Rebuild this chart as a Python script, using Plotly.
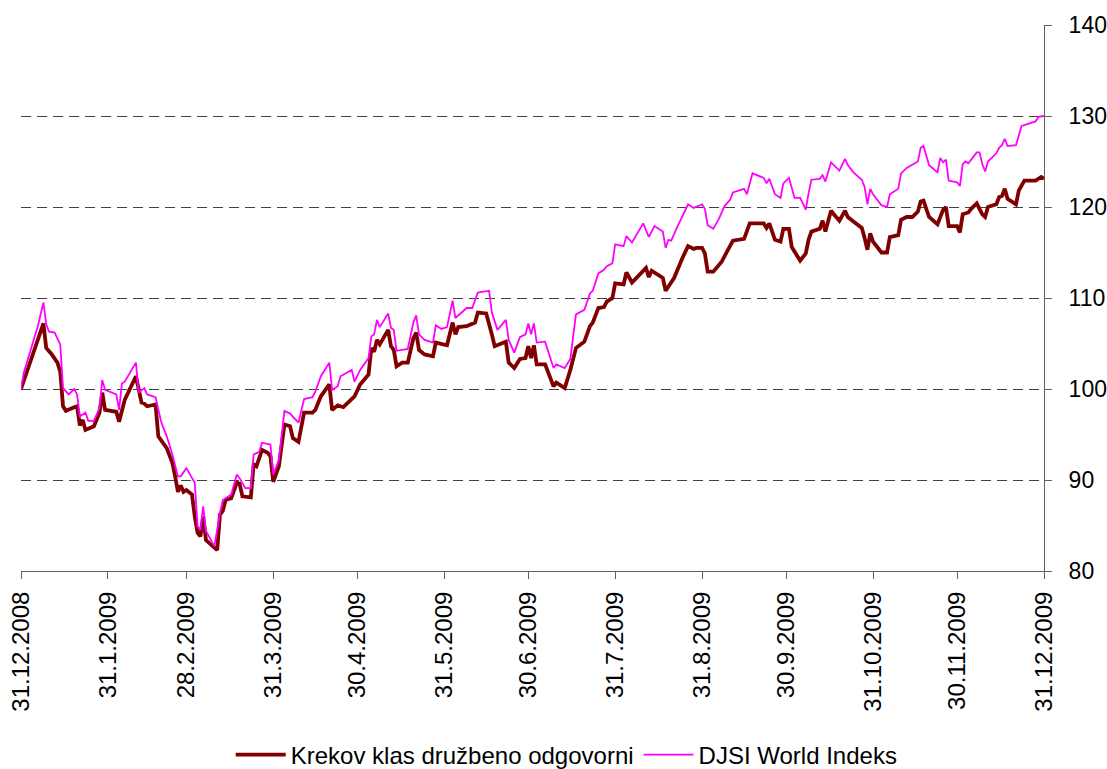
import pandas as pd
import plotly.graph_objects as go

start = pd.Timestamp("2008-12-31")

# Krekov klas družbeno odgovorni: calendar days since 31.12.2008 and index value
krekov_day = [0, 8, 9, 11, 13, 14, 15, 16, 19, 20, 21, 22, 23, 26, 28, 29, 30, 34, 35, 37,
              41, 43, 44, 45, 48, 49, 52, 54, 55, 56, 57, 58, 59, 61, 62, 63, 64, 65, 66, 67,
              68, 70, 71, 72, 73, 75, 77, 78, 79, 82, 83, 84, 86, 88, 89, 90, 92, 94, 96, 97,
              99, 101, 104, 105, 107, 110, 111, 113, 115, 119, 121, 124, 125, 126, 127, 128, 131, 132, 133, 134,
              136, 138, 140, 141, 142, 144, 147, 148, 152, 154, 155, 156, 159, 162, 163, 166, 168, 169, 173, 174,
              176, 178, 180, 181, 182, 183, 184, 187, 190, 191, 194, 196, 198, 201, 203, 204, 206, 208, 209, 211,
              212, 215, 216, 218, 223, 224, 225, 229, 230, 233, 236, 238, 240, 241, 243, 244, 245, 247, 250, 254,
              258, 260, 265, 266, 267, 269, 271, 272, 274, 275, 278, 280, 281, 282, 285, 286, 287, 289, 290, 292,
              294, 295, 297, 300, 301, 302, 303, 304, 307, 309, 310, 313, 314, 316, 318, 320, 321, 322, 324, 327,
              329, 330, 331, 334, 335, 336, 338, 339, 341, 343, 344, 345, 348, 349, 350, 351, 352, 355, 356, 358,
              362, 364, 365]
krekov_val = [100.0, 107.2, 104.5, 103.8, 102.9, 101.9, 98.1, 97.6, 98.0, 98.1, 96.0, 96.6, 95.5, 95.9, 97.4, 99.6, 97.7, 97.5, 96.4, 98.8,
              101.4, 98.5, 98.4, 98.1, 98.3, 94.8, 93.5, 91.9, 90.4, 88.7, 89.4, 88.7, 88.9, 88.4, 86.0, 84.2, 83.8, 86.0, 83.4, 83.1,
              82.8, 82.3, 86.2, 86.6, 87.8, 88.0, 89.7, 89.6, 88.2, 88.1, 91.7, 91.5, 93.3, 93.0, 92.6, 89.8, 91.5, 96.1, 95.9, 94.6,
              94.2, 97.4, 97.4, 97.7, 99.2, 100.5, 97.7, 98.2, 98.0, 99.2, 100.5, 101.6, 104.5, 104.1, 105.4, 104.9, 106.5, 104.7, 104.3, 102.5,
              102.9, 102.9, 105.6, 106.2, 104.3, 103.8, 103.6, 105.1, 104.8, 107.3, 106.0, 106.8, 106.9, 107.3, 108.4, 108.3, 106.0, 104.7, 105.2, 102.9,
              102.3, 103.3, 103.4, 104.7, 103.4, 104.8, 102.7, 102.7, 100.3, 100.7, 100.1, 102.1, 104.5, 105.2, 106.9, 107.3, 108.9, 109.0, 109.6, 110.0,
              111.6, 111.5, 112.8, 111.7, 113.3, 112.3, 113.0, 112.2, 110.8, 112.2, 114.4, 115.7, 115.4, 115.5, 115.5, 114.9, 112.9, 112.9, 114.0, 116.3,
              116.5, 118.2, 118.2, 117.7, 118.2, 116.4, 116.2, 117.6, 117.6, 115.6, 114.1, 114.9, 116.4, 117.3, 117.6, 118.5, 117.3, 119.6, 119.2, 118.5,
              119.6, 118.9, 118.4, 117.7, 116.6, 115.3, 117.1, 116.2, 115.0, 115.0, 116.7, 116.9, 118.6, 118.9, 118.9, 119.5, 120.6, 120.7, 118.9, 118.1,
              119.7, 120.0, 117.9, 117.9, 117.2, 119.2, 119.4, 119.8, 120.4, 119.2, 118.9, 120.0, 120.3, 121.1, 121.2, 122.0, 120.9, 120.3, 121.8, 122.9,
              122.9, 123.3, 123.1]

# DJSI World Indeks
djsi_day = [0, 1, 6, 8, 9, 10, 12, 14, 15, 17, 19, 20, 21, 23, 24, 26, 28, 29, 30, 34,
            35, 36, 37, 41, 42, 44, 45, 48, 50, 52, 54, 56, 57, 59, 62, 63, 64, 65, 66, 69,
            71, 72, 75, 77, 78, 80, 82, 83, 85, 86, 89, 90, 92, 94, 96, 99, 101, 104, 105, 107,
            110, 111, 113, 114, 118, 119, 121, 124, 125, 126, 127, 128, 131, 132, 133, 134, 138, 140, 141, 142,
            144, 147, 148, 150, 152, 154, 155, 159, 161, 163, 167, 168, 170, 173, 174, 176, 178, 180, 181, 182,
            183, 184, 187, 190, 191, 194, 196, 198, 201, 203, 204, 206, 208, 209, 211, 212, 215, 216, 218, 221,
            222, 224, 226, 229, 230, 231, 232, 234, 236, 238, 240, 243, 244, 245, 247, 249, 251, 253, 254, 258,
            259, 261, 265, 266, 267, 269, 271, 272, 274, 276, 278, 280, 281, 282, 285, 286, 287, 289, 290, 292,
            294, 295, 297, 300, 301, 302, 303, 304, 307, 309, 310, 313, 314, 316, 320, 321, 322, 324, 327, 328,
            329, 330, 331, 334, 335, 336, 337, 338, 341, 342, 343, 344, 345, 348, 349, 350, 351, 352, 355, 357,
            362, 363, 365]
djsi_val = [100.0, 101.8, 106.9, 109.5, 107.1, 106.3, 106.2, 104.9, 100.1, 99.4, 100.0, 99.4, 97.0, 97.4, 96.5, 96.5, 97.9, 101.0, 99.9, 99.4,
            97.7, 100.6, 100.8, 102.9, 99.6, 100.1, 99.4, 99.1, 96.4, 94.8, 92.8, 90.4, 90.4, 91.3, 89.7, 84.9, 84.5, 87.1, 84.4, 82.7,
            86.4, 87.8, 88.4, 90.6, 90.2, 89.1, 89.1, 92.8, 93.1, 94.1, 93.9, 90.6, 92.2, 97.6, 97.3, 96.3, 98.9, 99.1, 99.7, 101.4,
            102.9, 99.9, 100.3, 101.4, 102.1, 100.8, 102.1, 103.4, 105.8, 106.0, 107.6, 106.8, 108.3, 106.7, 106.5, 104.2, 104.4, 107.3, 108.1, 106.0,
            105.4, 105.1, 107.0, 106.6, 106.8, 109.7, 107.8, 108.9, 108.9, 110.6, 110.8, 108.4, 106.5, 107.6, 105.4, 104.0, 105.7, 106.0, 107.2, 106.0,
            107.2, 105.1, 105.2, 102.3, 102.7, 102.3, 103.3, 108.2, 108.7, 110.5, 110.8, 112.7, 113.1, 113.5, 113.8, 115.9, 115.7, 116.8, 116.1, 117.6,
            118.2, 116.7, 117.9, 117.3, 115.5, 116.4, 116.3, 117.7, 119.0, 120.3, 119.9, 120.3, 119.8, 118.0, 117.6, 118.7, 120.1, 120.8, 121.6, 122.0,
            121.4, 123.7, 123.2, 122.6, 123.1, 121.4, 121.0, 122.6, 123.2, 121.0, 121.0, 119.7, 121.5, 123.0, 123.1, 123.5, 122.8, 124.9, 124.6, 124.0,
            125.3, 124.6, 123.8, 123.0, 122.2, 120.3, 122.0, 121.4, 120.2, 120.0, 121.4, 122.0, 123.7, 124.3, 125.0, 126.5, 126.7, 124.6, 123.8, 125.4,
            124.9, 125.2, 122.9, 122.7, 122.3, 124.7, 125.0, 124.8, 126.0, 126.0, 124.7, 123.9, 125.0, 125.9, 126.5, 126.8, 127.5, 126.7, 126.8, 128.9,
            129.4, 129.9, 130.0]

tick_dates = ["2008-12-31", "2009-01-31", "2009-02-28", "2009-03-31", "2009-04-30", "2009-05-31",
              "2009-06-30", "2009-07-31", "2009-08-31", "2009-09-30", "2009-10-31", "2009-11-30",
              "2009-12-31"]
tick_text = ["31.12.2008", "31.1.2009", "28.2.2009", "31.3.2009", "30.4.2009", "31.5.2009",
             "30.6.2009", "31.7.2009", "31.8.2009", "30.9.2009", "31.10.2009", "30.11.2009",
             "31.12.2009"]

krekov_x = start + pd.to_timedelta(krekov_day, unit="D")
djsi_x = start + pd.to_timedelta(djsi_day, unit="D")

FONT = "Liberation Sans, Arial, sans-serif"

fig = go.Figure()
fig.add_trace(go.Scatter(x=krekov_x, y=krekov_val, mode="lines",
                         name="Krekov klas družbeno odgovorni",
                         line=dict(color="#800000", width=3.8)))
fig.add_trace(go.Scatter(x=djsi_x, y=djsi_val, mode="lines",
                         name="DJSI World Indeks",
                         line=dict(color="#FF00FF", width=1.8)))

fig.update_layout(
    width=1107, height=769,
    margin=dict(l=21, r=63, t=25, b=198, autoexpand=False),
    paper_bgcolor="white", plot_bgcolor="white",
    font=dict(family=FONT, size=23, color="black"),
    showlegend=True,
    legend=dict(orientation="h", x=0.205, xanchor="left", y=-0.337, yanchor="middle",
                font=dict(size=24), bgcolor="rgba(0,0,0,0)", itemwidth=50,
                tracegroupgap=0),
    xaxis=dict(type="date", range=["2008-12-31", "2009-12-31"],
               tickvals=tick_dates, ticktext=tick_text, tickangle=-90,
               ticks="outside", ticklen=7, tickcolor="#606060", tickwidth=1,
               showline=True, linecolor="#606060", linewidth=1,
               showgrid=False, zeroline=False, automargin=False,
               ticklabeloverflow="allow",
               tickfont=dict(size=24), ticklabelstandoff=3),
    yaxis=dict(side="right", range=[80, 140], dtick=10, tick0=80,
               ticks="outside", ticklen=7, tickcolor="#606060", tickwidth=1,
               showline=True, linecolor="#606060", linewidth=1,
               showgrid=True, gridcolor="#404040", gridwidth=1, griddash="10px,6px",
               zeroline=False, automargin=False,
               ticklabeloverflow="allow",
               tickfont=dict(size=23), ticklabelstandoff=12),
)

# remove the default page margin so the figure fills the window exactly
fig.write_html(
    "out.html",
    config={"displayModeBar": False},
    post_script=("document.body.style.margin='0';"
                 "document.body.style.overflow='hidden';"
                 "document.documentElement.style.overflow='hidden';"),
)
